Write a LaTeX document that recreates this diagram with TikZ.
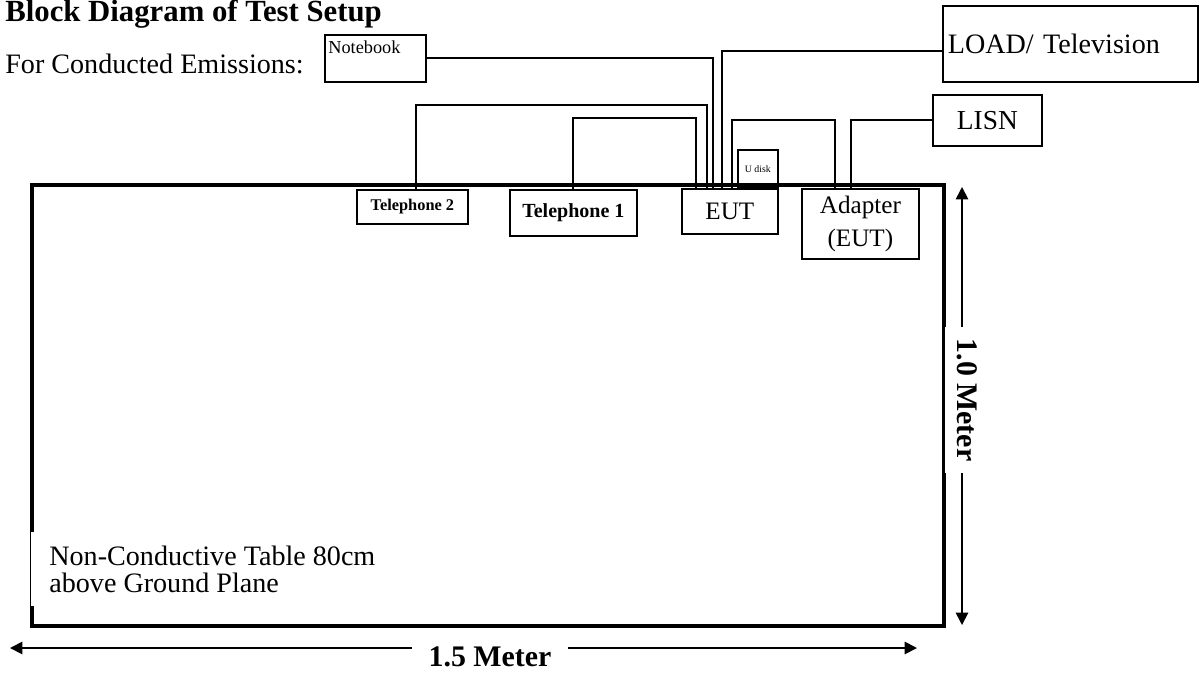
\documentclass[tikz,border=0pt]{standalone}
\usepackage{fontspec}
\setmainfont{Liberation Serif}
\usetikzlibrary{arrows.meta,calc}

\tikzset{
  unit/.style={draw, line width=1pt, anchor=north west, inner sep=0pt},
  wire/.style={line width=1pt},
  dimtext/.style={font=\fontsize{17}{19}\selectfont\bfseries, fill=white},
}

\begin{document}
\begin{tikzpicture}[>={Triangle[length=7pt,width=7pt]}]
\useasboundingbox (0,0) rectangle (24,13.5);

% headings
\node[anchor=base west, inner sep=0pt, font=\fontsize{17.5}{20}\selectfont\bfseries] (title) at (0.1,13.06) {Block Diagram of Test Setup};
\node[anchor=base west, inner sep=0pt, font=\fontsize{16}{18}\selectfont] (mode) at (0.1,12.03) {For Conducted Emissions:};

% table
\node[draw, line width=2.2pt, minimum width=18.24cm, minimum height=8.82cm, anchor=south west, inner sep=0pt] (table) at (0.6,0.94) {};

% equipment
\node[unit, minimum width=2.02cm, minimum height=0.94cm] (nb) at (6.48,12.82) {};
\node[anchor=north west, inner xsep=0.08cm, inner ysep=0.12cm, font=\fontsize{10.4}{12}\selectfont] (nblabel) at (nb.north west) {Notebook};
\node[unit, minimum width=5.1cm, minimum height=1.52cm, text width=4.9cm, align=left, inner xsep=0.1cm, font=\fontsize{16}{18}\selectfont] (load) at (18.84,13.4) {LOAD/ Television};
\node[unit, minimum width=2.18cm, minimum height=1.02cm, font=\fontsize{15.6}{18}\selectfont] (lisn) at (18.64,11.62) {LISN};
\node[unit, minimum width=2.22cm, minimum height=0.68cm, font=\fontsize{9.3}{11}\selectfont\bfseries] (tel2) at (7.12,9.72) {Telephone 2};
\node[unit, minimum width=2.54cm, minimum height=0.92cm, font=\fontsize{11.4}{13}\selectfont\bfseries] (tel1) at (10.18,9.72) {Telephone 1};
\node[unit, minimum width=1.92cm, minimum height=0.9cm, font=\fontsize{14.3}{16}\selectfont] (eut) at (13.62,9.74) {EUT};
\node[unit, minimum width=0.8cm, minimum height=0.76cm, font=\fontsize{5.6}{7}\selectfont] (udisk) at (14.74,10.52) {U disk};
\node[unit, minimum width=2.34cm, minimum height=1.4cm, align=center, font=\fontsize{14.3}{19}\selectfont] (adapter) at (16.02,9.74) {Adapter\\(EUT)};

% cables
\draw[wire] ($(tel2.north west)+(1.2,0)$) -- ++(0,1.68) -| ($(eut.north west)+(0.52,0)$);
\draw[wire] ($(tel1.north west)+(1.28,0)$) -- ++(0,1.42) -| ($(eut.north west)+(0.30,0)$);
\draw[wire] (nb.east) -| ($(eut.north west)+(0.64,0)$);
\draw[wire] ($(eut.north west)+(0.82,0)$) |- ([yshift=-0.14cm]load.west);
\draw[wire] ($(eut.north west)+(1.02,0)$) -- ++(0,1.36) -| ($(adapter.north west)+(0.68,0)$);
\draw[wire] (lisn.west) -| ($(adapter.north west)+(1.0,0)$);

% table note
\node[anchor=north west, fill=white, align=left, inner xsep=0.36cm, inner ysep=0.27cm, font=\fontsize{16}{15.5}\selectfont] (note) at (0.62,2.86) {Non-Conductive Table 80cm\\above Ground Plane};

% dimensions
\coordinate (vtop) at (19.24,9.76);
\coordinate (vbot) at (19.24,1.0);
\draw[<->, line width=1pt] (vtop) -- (vbot);
\node[dimtext, rotate=-90, inner xsep=0.24cm, inner ysep=0.23cm] (height) at (19.34,5.5) {1.0 Meter};

\coordinate (hleft) at (0.2,0.54);
\coordinate (hright) at (18.34,0.54);
\draw[<->, line width=1pt] (hleft) -- (hright);
\node[dimtext, inner xsep=0.33cm, inner ysep=0.1cm] (width) at (9.8,0.36) {1.5 Meter};
\end{tikzpicture}
\end{document}
